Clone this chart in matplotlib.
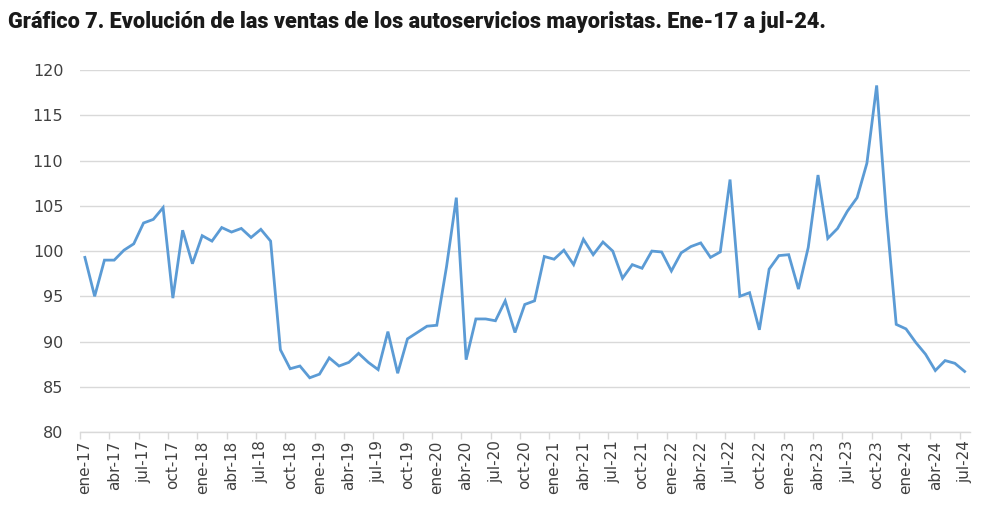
import matplotlib.pyplot as plt
import numpy as np

# Month labels (ene-17 .. jul-24)
meses = ['ene', 'feb', 'mar', 'abr', 'may', 'jun', 'jul', 'ago', 'sep', 'oct', 'nov', 'dic']
periodos = [f'{m}-{y}' for y in range(17, 25) for m in meses][:91]

# Sales index values
ventas = [
    99.3, 95.0, 99.0, 99.0, 100.1, 100.8, 103.1, 103.5, 104.8, 94.8, 102.3, 98.6,   # 2017
    101.7, 101.1, 102.6, 102.1, 102.5, 101.5, 102.4, 101.1, 89.1, 87.0, 87.3, 86.0,  # 2018
    86.4, 88.2, 87.3, 87.7, 88.7, 87.7, 86.9, 91.1, 86.5, 90.3, 91.0, 91.7,          # 2019
    91.8, 98.3, 105.9, 88.0, 92.5, 92.5, 92.3, 94.5, 91.0, 94.1, 94.5, 99.4,         # 2020
    99.1, 100.1, 98.5, 101.3, 99.6, 101.0, 100.0, 97.0, 98.5, 98.1, 100.0, 99.9,     # 2021
    97.8, 99.8, 100.5, 100.9, 99.3, 99.9, 107.9, 95.0, 95.4, 91.3, 98.0, 99.5,       # 2022
    99.6, 95.8, 100.4, 108.4, 101.4, 102.5, 104.4, 105.9, 109.7, 118.3, 104.0, 91.9, # 2023
    91.4, 89.9, 88.6, 86.8, 87.9, 87.6, 86.7,                                        # 2024
]

fig = plt.figure(figsize=(9.95, 5.15), dpi=100)
ax = fig.add_axes([0.0804, 0.161, 0.894, 0.703])

x = np.arange(len(ventas))
ax.plot(x, ventas, color='#5B9BD5', lw=2.0, solid_joinstyle='miter')

# Axes styling (Excel-like)
ax.set_ylim(80, 120)
ax.set_yticks(np.arange(80, 121, 5))
ax.set_xlim(-0.5, len(ventas) - 0.5)
ax.grid(axis='y', color='#D9D9D9', lw=1.0)
ax.set_axisbelow(True)
for s in ['left', 'right', 'top']:
    ax.spines[s].set_visible(False)
ax.spines['bottom'].set_color('#D9D9D9')
ax.spines['bottom'].set_linewidth(1.0)

# Labels every 3 months, tick marks between categories
ax.set_xticks(x[::3])
ax.set_xticklabels(periodos[::3], rotation=90, fontsize=11, color='#404040')
ax.tick_params(axis='x', length=0, pad=6)
ax.set_xticks(np.arange(-0.5, len(ventas), 3), minor=True)
ax.tick_params(axis='x', which='minor', length=5, color='#D9D9D9', width=1)
ax.tick_params(axis='y', length=0, pad=12, labelsize=11.5, labelcolor='#404040')

fig.text(0.008, 0.945, 'Gráfico 7. Evolución de las ventas de los autoservicios mayoristas. Ene-17 a jul-24.',
         fontsize=15.6, fontweight='heavy', color='#1a1a1a', family='Roboto', va='baseline')

fig.savefig('out.png', dpi=100)
